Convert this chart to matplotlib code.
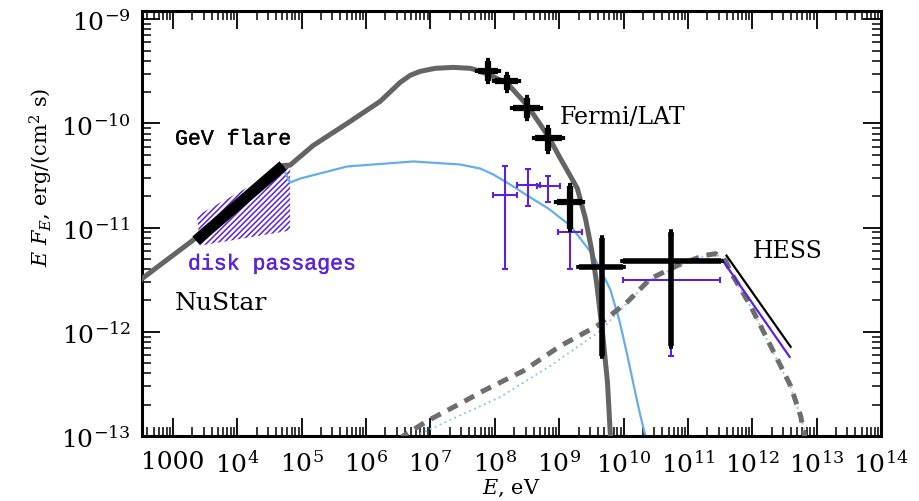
import numpy as np
import matplotlib
matplotlib.use("Agg")
import matplotlib.pyplot as plt
import matplotlib.patheffects as pe
from matplotlib.ticker import LogLocator, FixedLocator, FixedFormatter, NullFormatter

plt.rcParams['font.family'] = ['DejaVu Serif']
plt.rcParams['mathtext.fontset'] = 'dejavuserif'

# ---------------- data (log10 E [eV], log10 EF_E [erg/cm2/s]) ----------------
total_logE = [2.40, 2.518, 3.342, 4.711, 4.82, 5.177, 5.706, 6.219, 6.530, 6.686, 6.841, 7.075, 7.355, 7.619,
              7.728, 7.899, 8.194, 8.505, 8.832, 9.019, 9.143, 9.283, 9.408, 9.501, 9.579, 9.672, 9.750, 9.796, 9.82]
total_logF = [-11.58, -11.49, -11.106, -10.404, -10.40, -10.212, -10.0, -9.788, -9.606, -9.538, -9.500, -9.471, -9.462, -9.471,
              -9.490, -9.529, -9.615, -9.827, -10.125, -10.337, -10.471, -10.625, -10.913, -11.202, -11.519, -12.0, -12.481, -13.0, -13.3]

disk_logE = [2.40, 2.518, 3.342, 4.042, 4.509, 4.70, 4.82, 4.975, 5.706, 6.733, 7.463, 7.774,
             7.977, 8.241, 8.505, 8.832, 9.174, 9.532, 9.796, 9.936, 10.061, 10.170, 10.263, 10.341, 10.37]
disk_logF = [-11.58, -11.49, -11.106, -10.760, -10.529, -10.42, -10.567, -10.529, -10.413, -10.365, -10.394, -10.433,
             -10.490, -10.587, -10.692, -10.817, -10.981, -11.269, -11.596, -11.894, -12.231, -12.548, -12.808, -13.0, -13.2]

ic_logE = [6.55, 6.577, 6.950, 7.510, 7.821, 8.443, 9.019, 9.594, 10.061, 10.418, 10.85, 11.243, 11.429,
           11.585, 11.662, 11.973, 12.409, 12.596, 12.751, 12.813, 12.85]
ic_logF = [-13.05, -13.0, -12.856, -12.673, -12.567, -12.375, -12.135, -11.942, -11.712, -11.490, -11.36, -11.269, -11.25,
           -11.317, -11.423, -11.75, -12.288, -12.519, -12.808, -13.0, -13.1]

icd_logE = [6.73, 6.764, 7.308, 8.086, 8.863, 9.641, 10.061, 10.418, 10.85, 11.243, 11.429,
            11.585, 11.662, 11.973, 12.409, 12.596, 12.751, 12.84, 12.88]
icd_logF = [-13.05, -13.0, -12.846, -12.625, -12.327, -11.99, -11.72, -11.50, -11.37, -11.275, -11.255,
            -11.32, -11.43, -11.76, -12.30, -12.53, -12.82, -13.0, -13.1]

# GeV flare (NuStar-band power law) and disk passages region
flare_logE = [3.358, 4.711]
flare_logF = [-11.125, -10.404]
disk_reg_logE = [3.373, 4.820, 4.820, 3.420]
disk_reg_logF = [-10.885, -10.385, -11.029, -11.173]

# HESS power laws
hess_logE = [11.600, 12.596]
hess_logF = [-11.269, -12.144]
hessd_logE = [11.554, 12.580]
hessd_logF = [-11.327, -12.240]

# Fermi/LAT flare points (black): centre, x-range, y-range
fermi_logE = [7.899, 8.194, 8.505, 8.832, 9.174]
fermi_Elo = [7.743, 8.008, 8.288, 8.630, 8.972]
fermi_Ehi = [8.054, 8.365, 8.708, 9.050, 9.361]
fermi_logF = [-9.500, -9.596, -9.856, -10.144, -10.750]
fermi_Flo = [-9.596, -9.683, -9.952, -10.260, -11.010]
fermi_Fhi = [-9.404, -9.538, -9.760, -10.048, -10.596]

# High-energy black points
he_logE = [9.672, 10.745]
he_Elo = [9.314, 9.998]
he_Ehi = [9.998, 11.507]
he_logF = [-11.375, -11.317]
he_Flo = [-12.231, -12.135]
he_Fhi = [-11.096, -11.038]

# Disk passages points (purple)
dp_logE = [8.163, 8.521, 8.832, 9.174, 10.745]
dp_Elo = [7.977, 8.350, 8.661, 8.988, 9.998]
dp_Ehi = [8.350, 8.708, 9.019, 9.361, 11.492]
dp_logF = [-10.683, -10.587, -10.596, -11.038, -11.500]
dp_Flo = [-11.394, -10.788, -10.750, -11.394, -12.231]
dp_Fhi = [-10.413, -10.442, -10.500, -10.942, -11.067]

xtick_exp = list(range(3, 15))
xtick_labels = ['1000'] + [r'$10^{%d}$' % e for e in range(4, 15)]
ytick_exp = [-13, -12, -11, -10, -9]
ytick_labels = [r'$10^{%d}$' % e for e in ytick_exp]

P = lambda a: np.power(10.0, np.asarray(a, dtype=float))

PURPLE = '#5a22dc'
GRAY = '#646464'
BLUE = '#66aee8'

plt.rcParams['hatch.color'] = PURPLE
plt.rcParams['hatch.linewidth'] = 1.1

fig = plt.figure(figsize=(9.2, 5.02), dpi=100)
ax = fig.add_axes([142/920, 65/502, (881-142)/920, (437-12)/502])
ax.set_xscale('log')
ax.set_yscale('log')
ax.set_xlim(330, 1e14)
ax.set_ylim(1e-13, 1.2e-9)

# hatched disk-passage region
ax.fill(P(disk_reg_logE), P(disk_reg_logF), facecolor='none', edgecolor=PURPLE,
        hatch='//////', linewidth=0, zorder=1)

ax.plot(P(disk_logE), P(disk_logF), color=BLUE, lw=1.6, zorder=2)
ax.plot(P(total_logE), P(total_logF), color=GRAY, lw=3.6, zorder=3, solid_capstyle='butt')
ax.plot(P(ic_logE), P(ic_logF), color='#6e6e6e', lw=3.6, ls=(0, (2.2, 1.6)), zorder=3)
ax.plot(P(icd_logE), P(icd_logF), color='#8fbde6', lw=1.3, ls=(0, (1, 2)), zorder=2)
ax.plot(P(flare_logE), P(flare_logF), color='black', lw=8, solid_capstyle='butt', zorder=4)
ax.plot(P(hess_logE), P(hess_logF), color='black', lw=1.6, zorder=4)
ax.plot(P(hessd_logE), P(hessd_logF), color=PURPLE, lw=1.6, zorder=4)

def ebar(cE, Elo, Ehi, cF, Flo, Fhi, color, lw, cap, z):
    x = P(cE); y = P(cF)
    xerr = [x - P(Elo), P(Ehi) - x]
    yerr = [y - P(Flo), P(Fhi) - y]
    ax.errorbar(x, y, xerr=xerr, yerr=yerr, fmt='none', ecolor=color, elinewidth=lw,
                capsize=cap, capthick=lw, zorder=z)

ebar(dp_logE, dp_Elo, dp_Ehi, dp_logF, dp_Flo, dp_Fhi, PURPLE, 1.5, 2.5, 5)
ebar(fermi_logE, fermi_Elo, fermi_Ehi, fermi_logF, fermi_Flo, fermi_Fhi, 'black', 4.5, 1.5, 6)
ebar(he_logE, he_Elo, he_Ehi, he_logF, he_Flo, he_Fhi, 'black', 4.0, 1.5, 6)

# axes styling
ax.xaxis.set_major_locator(FixedLocator(P(xtick_exp)))
ax.xaxis.set_major_formatter(FixedFormatter(xtick_labels))
ax.xaxis.set_minor_locator(LogLocator(base=10, subs=np.arange(2, 10), numticks=100))
ax.xaxis.set_minor_formatter(NullFormatter())
ax.yaxis.set_major_locator(FixedLocator(P(ytick_exp)))
ax.yaxis.set_major_formatter(FixedFormatter(ytick_labels))
ax.yaxis.set_minor_locator(LogLocator(base=10, subs=np.arange(2, 10), numticks=100))
ax.yaxis.set_minor_formatter(NullFormatter())
ax.tick_params(which='both', direction='in', top=True, right=True, color='black')
ax.tick_params(which='major', length=13, width=1.3, labelsize=18)
ax.tick_params(axis='x', which='major', pad=10)
ax.tick_params(axis='y', which='major', pad=8)
ax.tick_params(which='minor', length=6.5, width=1.1)
for s in ax.spines.values():
    s.set_linewidth(2.2)

ax.set_xlabel(r'$E$, eV', fontsize=15, labelpad=0)
ax.set_ylabel(r'$E\ F_E$, erg/(cm$^2$ s)', fontsize=15)
ax.yaxis.set_label_coords(-0.118, 0.61)

# annotations
def ftext(px, py, s, **kw):
    fig.text(px/920, 1 - py/502, s, va='center', ha='left', **kw)

ftext(175, 140, 'GeV flare', family='Liberation Mono', fontsize=15.5, color='black',
      path_effects=[pe.withStroke(linewidth=0.3, foreground='black')])
ftext(188, 265, 'disk passages', family='Liberation Mono', fontsize=15.5, color=PURPLE,
      path_effects=[pe.withStroke(linewidth=0.3, foreground=PURPLE)])
ftext(175, 303, 'NuStar', fontsize=18, color='black')
ftext(560, 117, 'Fermi/LAT', fontsize=17, color='black')
ftext(753, 252, 'HESS', fontsize=17, color='black')

fig.savefig('out.png', dpi=100)
